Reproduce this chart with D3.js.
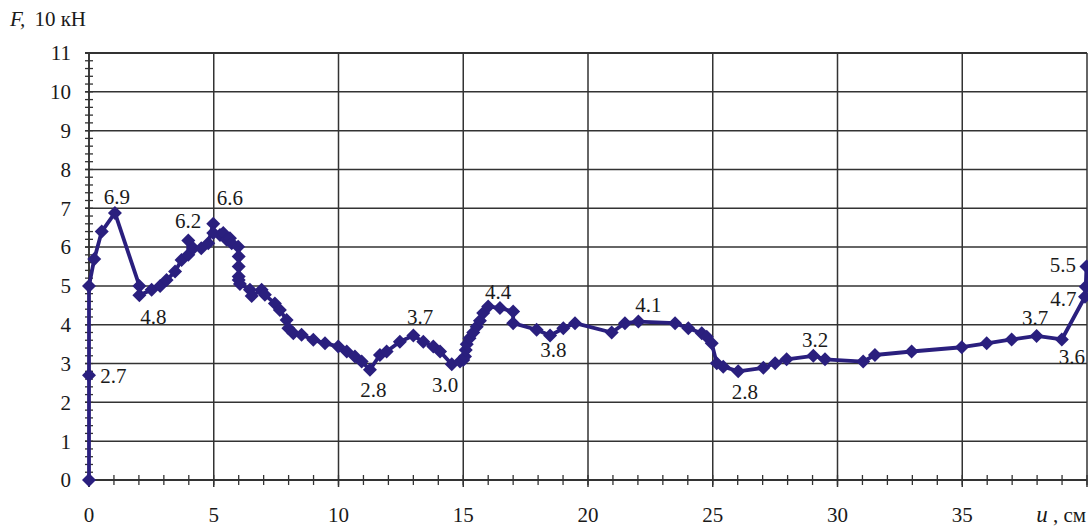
<!DOCTYPE html>
<html>
<head>
<meta charset="utf-8">
<script src="https://cdn.jsdelivr.net/npm/d3@7"></script>
<style>
  html, body { margin: 0; padding: 0; background: #fff; }
</style>
</head>
<body>
<svg id="chart" width="1088" height="528"></svg>
<script>
// Displacement u, cm
const uValues = [0, 0, 0, 0.21, 0.51, 1.04, 2.02, 2.02, 2.51, 2.85, 3.11, 3.45, 3.71, 3.98, 3.98, 4.18, 4.5, 4.78,
  4.98, 4.98, 5.25, 5.38, 5.52, 5.65, 5.72, 5.98, 6.0, 6.0, 6.0, 6.0, 6.05, 6.45, 6.52, 6.92, 7.05, 7.45, 7.65,
  7.92, 7.99, 8.19, 8.52, 8.99, 9.46, 9.99, 10.33, 10.66, 10.93, 11.26, 11.66, 11.93, 12.46, 13.0, 13.4, 13.8,
  14.07, 14.54, 14.87, 15.0, 15.07, 15.1, 15.14, 15.25, 15.4, 15.54, 15.67, 15.8, 16.0, 16.47, 17.0, 17.0, 17.94,
  18.48, 19.01, 19.48, 20.95, 21.48, 22.02, 23.49, 24.02, 24.56, 24.76, 24.96, 25.16, 25.42, 26.02, 27.03, 27.5,
  27.96, 29.03, 29.5, 31.03, 31.5, 32.97, 34.98, 35.98, 36.98, 37.98, 38.99, 39.92, 39.95, 39.98];
// Force F, 10 kN
const fValues = [0, 2.7, 5.0, 5.69, 6.4, 6.88, 5.0, 4.76, 4.9, 5.0, 5.15, 5.37, 5.67, 5.8, 6.17, 5.97, 5.97, 6.1,
  6.6, 6.36, 6.31, 6.36, 6.19, 6.23, 6.1, 6.01, 5.76, 5.5, 5.24, 5.15, 5.05, 4.9, 4.74, 4.9, 4.77, 4.55, 4.38,
  4.12, 3.91, 3.78, 3.74, 3.61, 3.52, 3.44, 3.31, 3.18, 3.05, 2.84, 3.22, 3.31, 3.56, 3.72, 3.56, 3.44,
  3.31, 2.98, 3.05, 3.09, 3.18, 3.35, 3.5, 3.65, 3.8, 3.95, 4.1, 4.3, 4.47, 4.43, 4.34, 4.04, 3.87,
  3.72, 3.91, 4.04, 3.8, 4.04, 4.08, 4.04, 3.91, 3.78, 3.69, 3.52, 3.01, 2.92, 2.8, 2.89, 3.01,
  3.11, 3.2, 3.11, 3.05, 3.22, 3.31, 3.42, 3.52, 3.62, 3.71, 3.62, 4.72, 4.98, 5.5];

// Value annotations: [u, F, text] (text anchor placed in data units)
const annotations = [
  [1.12, 7.29, "6.9"], [5.65, 7.27, "6.6"], [3.97, 6.68, "6.2"], [2.58, 4.2, "4.8"],
  [0.98, 2.68, "2.7"], [11.4, 2.32, "2.8"], [13.27, 4.21, "3.7"], [14.27, 2.45, "3.0"],
  [16.4, 4.85, "4.4"], [18.61, 3.35, "3.8"], [22.42, 4.51, "4.1"], [26.29, 2.28, "2.8"],
  [29.1, 3.61, "3.2"], [39.03, 5.54, "5.5"], [39.05, 4.68, "4.7"], [37.92, 4.19, "3.7"],
  [39.39, 3.18, "3.6"]
];

const xMajorTicks = [0, 5, 10, 15, 20, 25, 30, 35];
const yMajorTicks = [0, 1, 2, 3, 4, 5, 6, 7, 8, 9, 10, 11];

const FONT = "'Liberation Serif', 'Times New Roman', serif";
const FS = "21px";
const svg = d3.select("#chart");
const x = d3.scaleLinear().domain([0, 40]).range([89, 1087]);
const y = d3.scaleLinear().domain([0, 11]).range([480, 53]);

const gridColor = "#333";
const lineColor = "#2a1f7e";
const textColor = "#1a1a1a";

// horizontal gridlines
svg.append("g").selectAll("line").data(yMajorTicks).join("line")
  .attr("x1", x(0) - 4).attr("x2", x(40))
  .attr("y1", d => y(d)).attr("y2", d => y(d))
  .attr("stroke", gridColor).attr("stroke-width", d => (d === 0 || d === 11) ? 1.9 : 1.5);

// vertical gridlines
svg.append("g").selectAll("line").data(xMajorTicks.concat([40])).join("line")
  .attr("x1", d => x(d)).attr("x2", d => x(d))
  .attr("y1", y(11)).attr("y2", y(0) + 7)
  .attr("stroke", gridColor).attr("stroke-width", d => (d === 0) ? 1.9 : 1.5);

// minor y ticks every 0.2
const yMinor = d3.range(0, 11.0001, 0.2);
svg.append("g").selectAll("line").data(yMinor).join("line")
  .attr("x1", x(0) - 4).attr("x2", x(0) + 4)
  .attr("y1", d => y(d)).attr("y2", d => y(d))
  .attr("stroke", gridColor).attr("stroke-width", 1.3);

// minor x ticks every 1
const xMinor = d3.range(0, 40.001, 1);
svg.append("g").selectAll("line").data(xMinor).join("line")
  .attr("x1", d => x(d)).attr("x2", d => x(d))
  .attr("y1", y(0) - 5).attr("y2", y(0) + 5)
  .attr("stroke", gridColor).attr("stroke-width", 1.3);

// tick labels
svg.append("g").selectAll("text").data(yMajorTicks).join("text")
  .attr("x", 71).attr("y", d => y(d)).attr("dy", "0.35em")
  .attr("text-anchor", "end").style("font-size", FS).style("font-family", FONT).attr("fill", textColor)
  .text(d => d);

svg.append("g").selectAll("text").data(xMajorTicks).join("text")
  .attr("x", d => x(d)).attr("y", 522)
  .attr("text-anchor", "middle").style("font-size", FS).style("font-family", FONT).attr("fill", textColor)
  .text(d => d);

// axis titles
const xt = svg.append("text").attr("x", 1086).attr("y", 522).attr("text-anchor", "end")
  .style("font-size", FS).style("font-family", FONT).attr("fill", textColor);
xt.append("tspan").style("font-style", "italic").style("font-size", "23px").text("u");
xt.append("tspan").text(" , см");

const yt = svg.append("text").attr("x", 10).attr("y", 26).style("font-size", FS)
  .style("font-family", FONT).attr("fill", textColor);
yt.append("tspan").style("font-style", "italic").text("F,");
yt.append("tspan").attr("dx", 9).text("10 кН");

// series
const pts = uValues.map((u, i) => [u, fValues[i]]);
svg.append("path").datum(pts)
  .attr("fill", "none").attr("stroke", lineColor).attr("stroke-width", 3.8)
  .attr("stroke-linejoin", "round")
  .attr("d", d3.line().x(d => x(d[0])).y(d => y(d[1])));

const sym = d3.symbol().type(d3.symbolDiamond2).size(125);
svg.append("g").selectAll("path").data(pts).join("path")
  .attr("transform", d => `translate(${x(d[0])},${y(d[1])})`)
  .attr("d", sym).attr("fill", lineColor);

// annotations
svg.append("g").selectAll("text").data(annotations).join("text")
  .attr("x", d => x(d[0])).attr("y", d => y(d[1])).attr("dy", "0.35em")
  .attr("text-anchor", "middle").style("font-size", FS).style("font-family", FONT).attr("fill", textColor)
  .text(d => d[2]);
</script>
</body>
</html>
